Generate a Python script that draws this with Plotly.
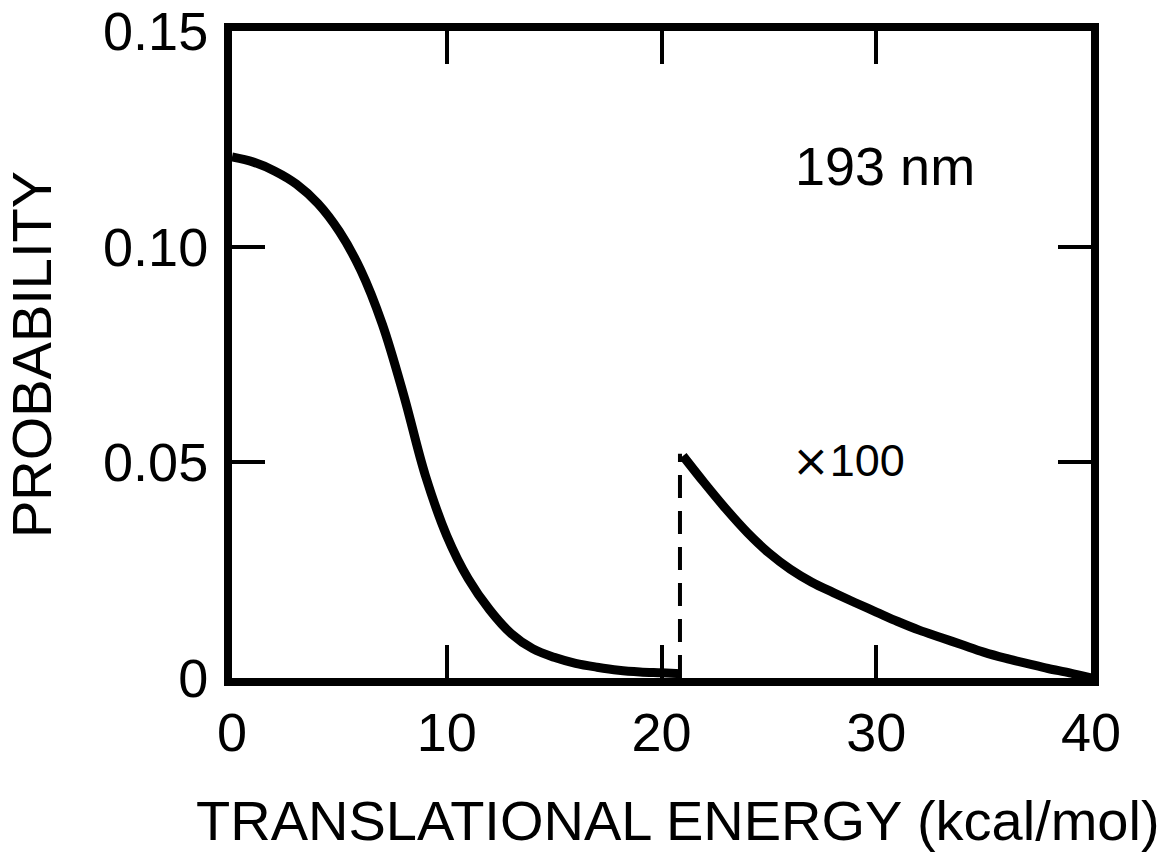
import plotly.graph_objects as go

# Main distribution
energy_main = [0, 1, 2, 3, 4, 5, 6, 7, 8, 9, 10, 11, 12, 13, 14, 15, 16, 17, 18, 19, 20, 20.9]
prob_main = [0.1208, 0.1196, 0.1175, 0.1145, 0.1100, 0.1035, 0.0945, 0.0820, 0.0655, 0.0470, 0.0330,
             0.0230, 0.0158, 0.0103, 0.0068, 0.0048, 0.0034, 0.0025, 0.0018, 0.0014, 0.0012, 0.0010]

# High-energy tail, scaled x100
energy_tail = [21, 22, 23, 24, 25, 26, 27, 28, 29, 30, 31, 32, 33, 34, 35, 36, 37, 38, 39, 40]
prob_tail = [0.0515, 0.0452, 0.0392, 0.0337, 0.0290, 0.0252, 0.0222, 0.0198, 0.0175, 0.0153,
             0.0131, 0.0111, 0.0094, 0.0077, 0.0060, 0.0046, 0.0034, 0.0022, 0.0012, 0.0]

# Dashed threshold marker
threshold_x = [20.86, 20.86]
threshold_y = [0.0, 0.052]

x_ticks = [0, 10, 20, 30, 40]
x_tick_labels = ["0", "10", "20", "30", "40"]
y_ticks = [0, 0.05, 0.10, 0.15]
y_tick_labels = ["0", "0.05", "0.10", "0.15"]

FONT = "Liberation Sans, Arial, Helvetica, sans-serif"

fig = go.Figure()
fig.add_trace(go.Scatter(x=threshold_x, y=threshold_y, mode="lines",
                         line=dict(color="black", width=4, dash="23px,13px"),
                         showlegend=False, hoverinfo="skip"))
fig.add_trace(go.Scatter(x=energy_main, y=prob_main, mode="lines",
                         line=dict(color="black", width=9, shape="spline", smoothing=1.0),
                         showlegend=False))
fig.add_trace(go.Scatter(x=energy_tail, y=prob_tail, mode="lines",
                         line=dict(color="black", width=9, shape="spline", smoothing=1.0),
                         showlegend=False))

fig.add_annotation(x=30.4, y=0.1187, text="193 nm", showarrow=False,
                   font=dict(size=54, color="black", family=FONT))
fig.add_annotation(x=28.7, y=0.0505,
                   text="<span style='font-family:DejaVu Sans'>×</span>100", showarrow=False,
                   font=dict(size=45, color="black", family=FONT))
fig.add_annotation(x=0.519, y=-0.2207, xref="paper", yref="paper",
                   text="TRANSLATIONAL ENERGY (kcal/mol)", showarrow=False,
                   xanchor="center", yanchor="middle",
                   font=dict(size=56, color="black", family=FONT))

fig.update_layout(
    width=1166, height=861,
    margin=dict(l=232, r=75, t=31, b=183),
    paper_bgcolor="white", plot_bgcolor="white",
    font=dict(family=FONT, color="black", size=54),
)
fig.update_xaxes(range=[0, 40], tickvals=x_ticks, ticktext=x_tick_labels,
                 showline=True, linecolor="black", linewidth=8, mirror="ticks",
                 ticks="inside", ticklen=33, tickwidth=4, tickcolor="black",
                 showgrid=False, zeroline=False, automargin=False,
                 tickfont=dict(size=54))
fig.update_yaxes(range=[0, 0.15], tickvals=y_ticks, ticktext=y_tick_labels,
                 showline=True, linecolor="black", linewidth=8, mirror="ticks",
                 ticks="inside", ticklen=33, tickwidth=4, tickcolor="black",
                 showgrid=False, zeroline=False, automargin=False,
                 ticklabelstandoff=5,
                 tickfont=dict(size=54),
                 title=dict(text="PROBABILITY", font=dict(size=56), standoff=40))

fig.write_html("out.html")
